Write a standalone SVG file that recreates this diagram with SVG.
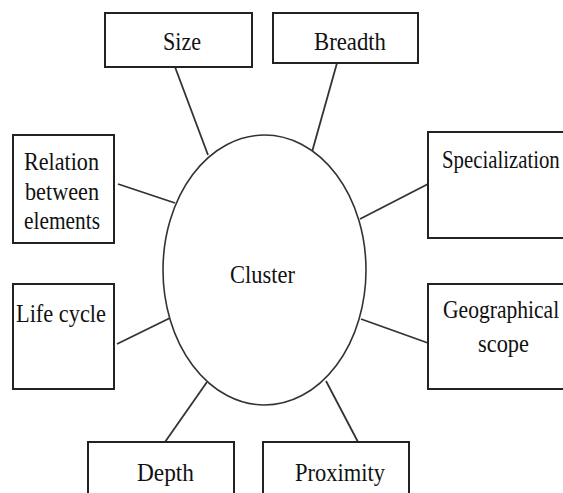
<svg xmlns="http://www.w3.org/2000/svg" width="563" height="493" viewBox="0 0 563 493">
<style>
.box{fill:#fff;stroke:#222;stroke-width:2}
.ell{fill:#fff;stroke:#333;stroke-width:1.6}
.con line{stroke:#333;stroke-width:1.8}
text{font-family:"Liberation Serif","Times New Roman",serif;font-size:26px;fill:#111}
</style>
<rect width="563" height="493" fill="#fff"/>
<g class="con" id="connectors">
<line x1="175" y1="67" x2="208" y2="155"/>
<line x1="337" y1="63" x2="312" y2="152"/>
<line x1="118" y1="184" x2="175" y2="203"/>
<line x1="360" y1="219" x2="428" y2="184"/>
<line x1="117" y1="344" x2="170" y2="318"/>
<line x1="361" y1="319" x2="428" y2="343"/>
<line x1="207" y1="382" x2="165" y2="442"/>
<line x1="326" y1="381" x2="358" y2="442"/>
</g>
<g id="cluster">
<ellipse class="ell" cx="264.5" cy="270" rx="101.5" ry="135"/>
<text x="230" y="283" textLength="65" lengthAdjust="spacingAndGlyphs">Cluster</text>
</g>
<g id="size">
<rect class="box" x="105" y="13" width="147" height="54"/>
<text x="163" y="50" textLength="38" lengthAdjust="spacingAndGlyphs">Size</text>
</g>
<g id="breadth">
<rect class="box" x="273" y="13" width="145" height="50"/>
<text x="314" y="50" textLength="72" lengthAdjust="spacingAndGlyphs">Breadth</text>
</g>
<g id="relation">
<rect class="box" x="13" y="135" width="101" height="108"/>
<text x="24" y="170" textLength="75" lengthAdjust="spacingAndGlyphs">Relation</text>
<text x="25" y="200" textLength="74" lengthAdjust="spacingAndGlyphs">between</text>
<text x="24" y="229" textLength="76" lengthAdjust="spacingAndGlyphs">elements</text>
</g>
<g id="specialization">
<rect class="box" x="428" y="132" width="145" height="106"/>
<text transform="translate(442,168) scale(0.8,1)" x="0" y="0">Specialization</text>
</g>
<g id="lifecycle">
<rect class="box" x="13" y="284" width="101" height="105"/>
<text x="16" y="322" textLength="90" lengthAdjust="spacingAndGlyphs">Life cycle</text>
</g>
<g id="geographical">
<rect class="box" x="428" y="284" width="145" height="105"/>
<text transform="translate(443,318) scale(0.83,1)" x="0" y="0">Geographical</text>
<text x="478" y="352" textLength="51" lengthAdjust="spacingAndGlyphs">scope</text>
</g>
<g id="depth">
<rect class="box" x="88" y="442" width="146" height="60"/>
<text x="137" y="481" textLength="57" lengthAdjust="spacingAndGlyphs">Depth</text>
</g>
<g id="proximity">
<rect class="box" x="263" y="442" width="146" height="60"/>
<text x="295" y="481" textLength="90" lengthAdjust="spacingAndGlyphs">Proximity</text>
</g>
</svg>
